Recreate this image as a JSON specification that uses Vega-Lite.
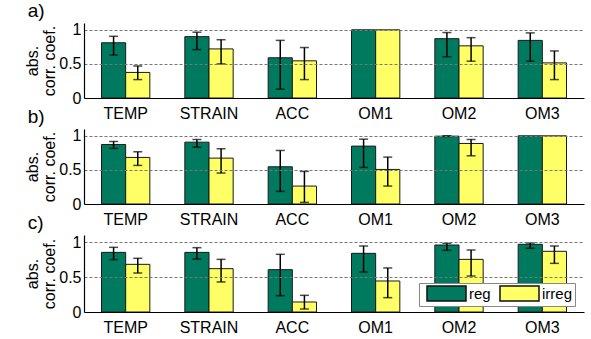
{
  "$schema": "https://vega.github.io/schema/vega-lite/v6.json",
  "padding": {"left": 24, "top": 1, "right": 5, "bottom": 5},
  "bounds": "flush",
  "spacing": 31,
  "background": "white",
  "config": {
    "font": "Liberation Sans",
    "view": {"stroke": null},
    "axis": {
      "labelFont": "Liberation Sans", "labelFontSize": 16, "labelColor": "#000",
      "titleFont": "Liberation Sans", "titleFontSize": 16, "titleFontWeight": "normal", "titleColor": "#000",
      "domainColor": "#000", "domainWidth": 1.2, "ticks": false
    },
    "title": {"font": "Liberation Sans", "fontSize": 19, "fontWeight": "normal", "anchor": "start", "color": "#000", "frame": "bounds", "dx": 3, "offset": 1}
  },
  "resolve": {"legend": {"color": "independent"}},
  "datasets": {
    "d": [
      {"panel": "a", "var": "TEMP", "group": "reg", "value": 0.81, "lo": 0.63, "hi": 0.905},
      {"panel": "a", "var": "TEMP", "group": "irreg", "value": 0.375, "lo": 0.27, "hi": 0.47},
      {"panel": "a", "var": "STRAIN", "group": "reg", "value": 0.9, "lo": 0.71, "hi": 0.965},
      {"panel": "a", "var": "STRAIN", "group": "irreg", "value": 0.72, "lo": 0.5, "hi": 0.855},
      {"panel": "a", "var": "ACC", "group": "reg", "value": 0.59, "lo": 0.13, "hi": 0.845},
      {"panel": "a", "var": "ACC", "group": "irreg", "value": 0.545, "lo": 0.27, "hi": 0.74},
      {"panel": "a", "var": "OM1", "group": "reg", "value": 1.0, "lo": null, "hi": null},
      {"panel": "a", "var": "OM1", "group": "irreg", "value": 1.0, "lo": null, "hi": null},
      {"panel": "a", "var": "OM2", "group": "reg", "value": 0.87, "lo": 0.605, "hi": 0.96},
      {"panel": "a", "var": "OM2", "group": "irreg", "value": 0.765, "lo": 0.54, "hi": 0.885},
      {"panel": "a", "var": "OM3", "group": "reg", "value": 0.845, "lo": 0.54, "hi": 0.955},
      {"panel": "a", "var": "OM3", "group": "irreg", "value": 0.515, "lo": 0.27, "hi": 0.69},
      {"panel": "b", "var": "TEMP", "group": "reg", "value": 0.873, "lo": 0.815, "hi": 0.917},
      {"panel": "b", "var": "TEMP", "group": "irreg", "value": 0.683, "lo": 0.566, "hi": 0.766},
      {"panel": "b", "var": "STRAIN", "group": "reg", "value": 0.907, "lo": 0.834, "hi": 0.946},
      {"panel": "b", "var": "STRAIN", "group": "irreg", "value": 0.673, "lo": 0.454, "hi": 0.81},
      {"panel": "b", "var": "ACC", "group": "reg", "value": 0.546, "lo": 0.185, "hi": 0.785},
      {"panel": "b", "var": "ACC", "group": "irreg", "value": 0.263, "lo": 0.024, "hi": 0.478},
      {"panel": "b", "var": "OM1", "group": "reg", "value": 0.849, "lo": 0.537, "hi": 0.951},
      {"panel": "b", "var": "OM1", "group": "irreg", "value": 0.507, "lo": 0.263, "hi": 0.688},
      {"panel": "b", "var": "OM2", "group": "reg", "value": 0.995, "lo": 0.99, "hi": 1.0},
      {"panel": "b", "var": "OM2", "group": "irreg", "value": 0.888, "lo": 0.707, "hi": 0.946},
      {"panel": "b", "var": "OM3", "group": "reg", "value": 1.0, "lo": null, "hi": null},
      {"panel": "b", "var": "OM3", "group": "irreg", "value": 1.0, "lo": null, "hi": null},
      {"panel": "c", "var": "TEMP", "group": "reg", "value": 0.852, "lo": 0.748, "hi": 0.924},
      {"panel": "c", "var": "TEMP", "group": "irreg", "value": 0.681, "lo": 0.557, "hi": 0.767},
      {"panel": "c", "var": "STRAIN", "group": "reg", "value": 0.852, "lo": 0.757, "hi": 0.919},
      {"panel": "c", "var": "STRAIN", "group": "irreg", "value": 0.619, "lo": 0.429, "hi": 0.752},
      {"panel": "c", "var": "ACC", "group": "reg", "value": 0.605, "lo": 0.233, "hi": 0.824},
      {"panel": "c", "var": "ACC", "group": "irreg", "value": 0.143, "lo": 0.043, "hi": 0.238},
      {"panel": "c", "var": "OM1", "group": "reg", "value": 0.838, "lo": 0.571, "hi": 0.943},
      {"panel": "c", "var": "OM1", "group": "irreg", "value": 0.443, "lo": 0.205, "hi": 0.629},
      {"panel": "c", "var": "OM2", "group": "reg", "value": 0.957, "lo": 0.881, "hi": 0.981},
      {"panel": "c", "var": "OM2", "group": "irreg", "value": 0.752, "lo": 0.514, "hi": 0.886},
      {"panel": "c", "var": "OM3", "group": "reg", "value": 0.967, "lo": 0.91, "hi": 0.986},
      {"panel": "c", "var": "OM3", "group": "irreg", "value": 0.867, "lo": 0.695, "hi": 0.943}
    ]
  },
  "vconcat": [
    {
      "title": {"text": "a)"},
      "width": 500, "height": 75,
      "data": {"name": "d"},
      "transform": [{"filter": "datum.panel === 'a'"}],
      "encoding": {
        "x": {"field": "var", "type": "nominal", "sort": ["TEMP", "STRAIN", "ACC", "OM1", "OM2", "OM3"], "scale": {"paddingInner": 0.42, "paddingOuter": 0.21}, "axis": {"title": null, "labelAngle": 0, "labelPadding": 7, "zindex": 1}},
        "xOffset": {"field": "group", "type": "nominal", "sort": ["reg", "irreg"]}
      },
      "layer": [
        {
          "mark": {"type": "bar", "stroke": "#1a1a1a", "strokeWidth": 1},
          "encoding": {
            "y": {"field": "value", "type": "quantitative", "scale": {"domain": [0, 1.1], "nice": false}, "axis": {"title": ["abs.", "corr. coef."], "titleLineHeight": 17, "titlePadding": 1, "values": [0, 0.5, 1], "tickCount": 5, "format": "~g", "labelOverlap": false, "labelPadding": 3, "grid": true, "gridDash": [3, 2], "gridColor": "#777", "gridOpacity": {"condition": {"test": "datum.value === 0", "value": 0}, "value": 1}, "zindex": 1}},
            "color": {"field": "group", "type": "nominal", "scale": {"domain": ["reg", "irreg"], "range": ["#007A5E", "#FFFF66"]}, "legend": null}
          }
        },
        {
          "transform": [{"filter": "datum.lo != null"}],
          "mark": {"type": "rule", "color": "#000", "strokeWidth": 1.5},
          "encoding": {"y": {"field": "lo", "type": "quantitative"}, "y2": {"field": "hi"}}
        },
        {
          "transform": [{"filter": "datum.lo != null"}],
          "mark": {"type": "tick", "color": "#000", "size": 9, "thickness": 1.5},
          "encoding": {"y": {"field": "lo", "type": "quantitative"}}
        },
        {
          "transform": [{"filter": "datum.lo != null"}],
          "mark": {"type": "tick", "color": "#000", "size": 9, "thickness": 1.5},
          "encoding": {"y": {"field": "hi", "type": "quantitative"}}
        }
      ]
    },
    {
      "title": {"text": "b)"},
      "width": 500, "height": 75,
      "data": {"name": "d"},
      "transform": [{"filter": "datum.panel === 'b'"}],
      "encoding": {
        "x": {"field": "var", "type": "nominal", "sort": ["TEMP", "STRAIN", "ACC", "OM1", "OM2", "OM3"], "scale": {"paddingInner": 0.42, "paddingOuter": 0.21}, "axis": {"title": null, "labelAngle": 0, "labelPadding": 7, "zindex": 1}},
        "xOffset": {"field": "group", "type": "nominal", "sort": ["reg", "irreg"]}
      },
      "layer": [
        {
          "mark": {"type": "bar", "stroke": "#1a1a1a", "strokeWidth": 1},
          "encoding": {
            "y": {"field": "value", "type": "quantitative", "scale": {"domain": [0, 1.1], "nice": false}, "axis": {"title": ["abs.", "corr. coef."], "titleLineHeight": 17, "titlePadding": 1, "values": [0, 0.5, 1], "tickCount": 5, "format": "~g", "labelOverlap": false, "labelPadding": 3, "grid": true, "gridDash": [3, 2], "gridColor": "#777", "gridOpacity": {"condition": {"test": "datum.value === 0", "value": 0}, "value": 1}, "zindex": 1}},
            "color": {"field": "group", "type": "nominal", "scale": {"domain": ["reg", "irreg"], "range": ["#007A5E", "#FFFF66"]}, "legend": null}
          }
        },
        {
          "transform": [{"filter": "datum.lo != null"}],
          "mark": {"type": "rule", "color": "#000", "strokeWidth": 1.5},
          "encoding": {"y": {"field": "lo", "type": "quantitative"}, "y2": {"field": "hi"}}
        },
        {
          "transform": [{"filter": "datum.lo != null"}],
          "mark": {"type": "tick", "color": "#000", "size": 9, "thickness": 1.5},
          "encoding": {"y": {"field": "lo", "type": "quantitative"}}
        },
        {
          "transform": [{"filter": "datum.lo != null"}],
          "mark": {"type": "tick", "color": "#000", "size": 9, "thickness": 1.5},
          "encoding": {"y": {"field": "hi", "type": "quantitative"}}
        }
      ]
    },
    {
      "title": {"text": "c)"},
      "width": 500, "height": 77,
      "data": {"name": "d"},
      "transform": [{"filter": "datum.panel === 'c'"}],
      "encoding": {
        "x": {"field": "var", "type": "nominal", "sort": ["TEMP", "STRAIN", "ACC", "OM1", "OM2", "OM3"], "scale": {"paddingInner": 0.42, "paddingOuter": 0.21}, "axis": {"title": null, "labelAngle": 0, "labelPadding": 7, "zindex": 1}},
        "xOffset": {"field": "group", "type": "nominal", "sort": ["reg", "irreg"]}
      },
      "layer": [
        {
          "mark": {"type": "bar", "stroke": "#1a1a1a", "strokeWidth": 1},
          "encoding": {
            "y": {"field": "value", "type": "quantitative", "scale": {"domain": [0, 1.1], "nice": false}, "axis": {"title": ["abs.", "corr. coef."], "titleLineHeight": 17, "titlePadding": 1, "values": [0, 0.5, 1], "tickCount": 5, "format": "~g", "labelOverlap": false, "labelPadding": 3, "grid": true, "gridDash": [3, 2], "gridColor": "#777", "gridOpacity": {"condition": {"test": "datum.value === 0", "value": 0}, "value": 1}, "zindex": 1}},
            "color": {"field": "group", "type": "nominal", "scale": {"domain": ["reg", "irreg"], "range": ["#007A5E", "#FFFF66"]},
              "legend": {"orient": "none", "legendX": 335, "legendY": 48, "direction": "horizontal", "title": null,
                "symbolType": "M-2.6,-1H2.6V1H-2.6Z", "symbolSize": 225, "symbolOffset": 17, "labelOffset": 14,
                "symbolStrokeColor": "#111", "symbolStrokeWidth": 1.5, "symbolOpacity": 1,
                "labelFont": "Liberation Sans", "labelFontSize": 15, "labelColor": "#000",
                "fillColor": "white", "strokeColor": "#888", "padding": 2, "columnPadding": 3, "zindex": 2}}
          }
        },
        {
          "transform": [{"filter": "datum.lo != null"}],
          "mark": {"type": "rule", "color": "#000", "strokeWidth": 1.5},
          "encoding": {"y": {"field": "lo", "type": "quantitative"}, "y2": {"field": "hi"}}
        },
        {
          "transform": [{"filter": "datum.lo != null"}],
          "mark": {"type": "tick", "color": "#000", "size": 9, "thickness": 1.5},
          "encoding": {"y": {"field": "lo", "type": "quantitative"}}
        },
        {
          "transform": [{"filter": "datum.lo != null"}],
          "mark": {"type": "tick", "color": "#000", "size": 9, "thickness": 1.5},
          "encoding": {"y": {"field": "hi", "type": "quantitative"}}
        }
      ]
    }
  ]
}
